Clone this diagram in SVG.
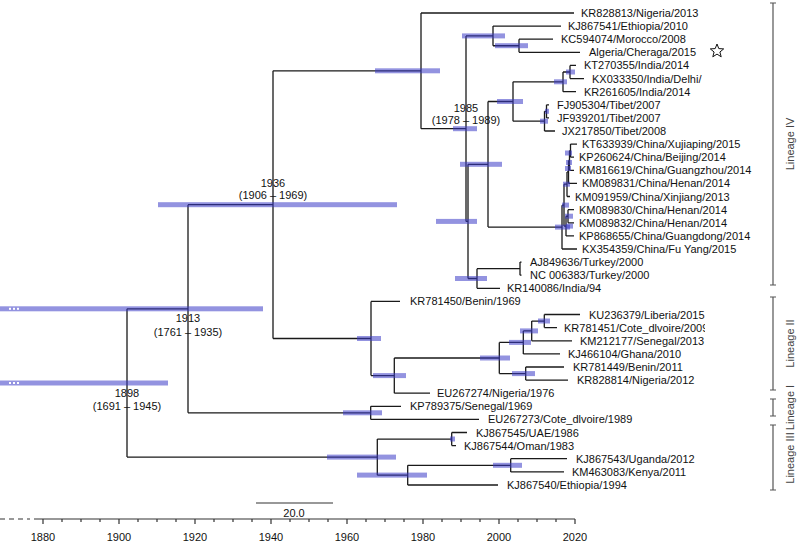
<svg xmlns="http://www.w3.org/2000/svg" width="798" height="545" viewBox="0 0 798 545">
<style>
text{font-family:"Liberation Sans",Arial,sans-serif;font-size:11px;fill:#111}
.tree{fill:none;stroke:#1a1a1a;stroke-width:1.3}
.hpd{fill:#3a3ac6;fill-opacity:0.55}
.nl{text-anchor:middle}
.lin{fill:none;stroke:#555;stroke-width:1.2}
.lt{fill:#444;text-anchor:middle}
.ax{fill:none;stroke:#333;stroke-width:1.2}
</style>
<defs>
<clipPath id="cut"><rect x="0" y="0" width="705" height="545"/></clipPath>
</defs>
<rect width="798" height="545" fill="#fff"/>
<g id="connectors" class="tree">
<path d="M127,308.8V457.1M127,308.8H188M127,457.1H377.3"/>
<path d="M188,204.7V412.85M188,204.7H273M188,412.85H370.7"/>
<path d="M273,70.8V338.5M273,70.8H421M273,338.5H371"/>
<path d="M421,13V128.65M421,13H574M421,128.65H466"/>
<path d="M466,35.9V221.4M466,35.9H493M466,221.4H468"/>
<path d="M468,164.3V278.5M468,164.3H488M468,278.5H477"/>
<path d="M493,26.1V45.75M493,26.1H561M493,45.75H519"/>
<path d="M519,39.2V52.3M519,39.2H553M519,52.3H580"/>
<path d="M488,101.5V227.1M488,101.5H513M488,227.1H562"/>
<path d="M513,81.85V121.2M513,81.85H563M513,121.2H544.5"/>
<path d="M563,72V91.7M563,72H570M563,91.7H576"/>
<path d="M570,65.4V78.6M570,65.4H576M570,78.6H584"/>
<path d="M544.5,111.35V131M544.5,111.35H546.5M544.5,131H555"/>
<path d="M546.5,104.8V117.9M546.5,104.8H549M546.5,117.9H549"/>
<path d="M562,205.15V249M562,205.15H564M562,249H577"/>
<path d="M564,184.2V226.1M564,184.2H567M564,226.1H566"/>
<path d="M567,171.9V196.5M567,171.9H568.5M567,196.5H570"/>
<path d="M568.5,160.5V183.4M568.5,160.5H569.5M568.5,183.4H577"/>
<path d="M569.5,150.65V170.3M569.5,150.65H570.5M569.5,170.3H574"/>
<path d="M570.5,144.1V157.2M570.5,144.1H577M570.5,157.2H574"/>
<path d="M566,216.25V235.9M566,216.25H568M566,235.9H574"/>
<path d="M568,209.7V222.8M568,209.7H574M568,222.8H574"/>
<path d="M477,268.65V288.3M477,268.65H520M477,288.3H500"/>
<path d="M520,262.1V275.2M520,262.1H521.5M520,275.2H521.5"/>
<path d="M371,301.4V375.6M371,301.4H400M371,375.6H394.3"/>
<path d="M394.3,358V393.2M394.3,358H499.3M394.3,393.2H430"/>
<path d="M499.3,342.4V373.6M499.3,342.4H523.3M499.3,373.6H525.7"/>
<path d="M523.3,330.9V353.9M523.3,330.9H531.7M523.3,353.9H560"/>
<path d="M531.7,321.05V340.8M531.7,321.05H544.3M531.7,340.8H572"/>
<path d="M544.3,314.5V327.6M544.3,314.5H580M544.3,327.6H557"/>
<path d="M525.7,367V380.1M525.7,367H564M525.7,380.1H568"/>
<path d="M370.7,406.3V419.4M370.7,406.3H401M370.7,419.4H479"/>
<path d="M377.3,439.05V475.15M377.3,439.05H451.7M377.3,475.15H407.7"/>
<path d="M451.7,432.5V445.6M451.7,432.5H467M451.7,445.6H456"/>
<path d="M407.7,465.3V485M407.7,465.3H510.7M407.7,485H498"/>
<path d="M510.7,458.7V471.9M510.7,458.7H567M510.7,471.9H564"/>
</g>
<g id="hpd-bars">
<g id="node-root"><rect class="hpd" x="19" y="380.5" width="149" height="5"/><rect class="hpd" x="0" y="380.5" width="19" height="5" fill-opacity="0.25"/><rect x="9" y="382" width="2" height="2" fill="#fff"/><rect x="13" y="382" width="2" height="2" fill="#fff"/><rect x="17" y="382" width="2" height="2" fill="#fff"/><text class="nl" x="127" y="397">1898</text><text class="nl" x="127" y="410">(1691 – 1945)</text></g>
<g id="node-1913"><rect class="hpd" x="19" y="306.3" width="244" height="5"/><rect class="hpd" x="0" y="306.3" width="19" height="5" fill-opacity="0.25"/><rect x="9" y="307.8" width="2" height="2" fill="#fff"/><rect x="13" y="307.8" width="2" height="2" fill="#fff"/><rect x="17" y="307.8" width="2" height="2" fill="#fff"/><text class="nl" x="188" y="322">1913</text><text class="nl" x="188" y="335.5">(1761 – 1935)</text></g>
<g id="node-1936"><rect class="hpd" x="158" y="202.2" width="239" height="5"/><text class="nl" x="273" y="186.5">1936</text><text class="nl" x="273" y="198.5">(1906 – 1969)</text></g>
<g id="node-crownIV"><rect class="hpd" x="375" y="68.3" width="65" height="5"/></g>
<g id="node-1985"><rect class="hpd" x="453" y="126.2" width="24" height="5"/><text class="nl" x="466" y="111.5">1985</text><text class="nl" x="466" y="124">(1978 – 1989)</text></g>
<g id="node-c1"><rect class="hpd" x="462" y="33.4" width="43" height="5"/></g>
<g id="node-c2"><rect class="hpd" x="495" y="43.2" width="33" height="5"/></g>
<g id="node-itc"><rect class="hpd" x="460" y="161.8" width="42" height="5"/></g>
<g id="node-it"><rect class="hpd" x="497" y="99" width="26" height="5"/></g>
<g id="node-india"><rect class="hpd" x="554" y="79.3" width="13" height="5"/></g>
<g id="node-ktkx"><rect class="hpd" x="566" y="69.5" width="9" height="5"/></g>
<g id="node-tibet"><rect class="hpd" x="540" y="118.7" width="8" height="5"/></g>
<g id="node-fjjf"><rect class="hpd" x="545" y="108.8" width="4" height="5"/></g>
<g id="node-b"><rect class="hpd" x="436" y="218.9" width="41" height="5"/></g>
<g id="node-tk"><rect class="hpd" x="455" y="276" width="32" height="5"/></g>
<g id="node-china"><rect class="hpd" x="555" y="224.6" width="15" height="5"/></g>
<g id="node-n205"><rect class="hpd" x="562" y="202.6" width="7" height="5"/></g>
<g id="node-u4"><rect class="hpd" x="563" y="181.7" width="7" height="5"/></g>
<g id="node-u3"><rect class="hpd" x="565" y="166" width="6" height="5"/></g>
<g id="node-u2"><rect class="hpd" x="566" y="160" width="6" height="5"/></g>
<g id="node-u1"><rect class="hpd" x="565" y="150.5" width="7" height="5"/></g>
<g id="node-l2"><rect class="hpd" x="566" y="223.6" width="7" height="5"/></g>
<g id="node-l1"><rect class="hpd" x="565" y="213.7" width="8" height="5"/></g>
<g id="node-crownII"><rect class="hpd" x="357" y="336" width="24" height="5"/></g>
<g id="node-d"><rect class="hpd" x="373" y="373.1" width="33" height="5"/></g>
<g id="node-e"><rect class="hpd" x="480" y="355.5" width="30" height="5"/></g>
<g id="node-f"><rect class="hpd" x="509" y="339.9" width="22" height="5"/></g>
<g id="node-h"><rect class="hpd" x="520" y="328.4" width="18" height="5"/></g>
<g id="node-i"><rect class="hpd" x="538" y="318.5" width="12" height="5"/></g>
<g id="node-g"><rect class="hpd" x="512" y="371.1" width="23" height="5"/></g>
<g id="node-crownI"><rect class="hpd" x="343" y="410.3" width="39" height="5"/></g>
<g id="node-crownIII"><rect class="hpd" x="327" y="454.6" width="69" height="5"/></g>
<g id="node-j"><rect class="hpd" x="357" y="472.6" width="70" height="5"/></g>
<g id="node-k"><rect class="hpd" x="493" y="462.8" width="29" height="5"/></g>
<g id="node-uo"><rect class="hpd" x="450" y="436.5" width="5" height="5"/></g>
</g>
<g id="tips">
<g id="tip-1"><text x="581" y="17">KR828813/Nigeria/2013</text></g>
<g id="tip-2"><text x="568" y="30.1">KJ867541/Ethiopia/2010</text></g>
<g id="tip-3"><text x="561" y="43.2">KC594074/Morocco/2008</text></g>
<g id="tip-4"><text x="589" y="56.3">Algeria/Cheraga/2015</text><polygon points="717,44 718.8,48.6 723.7,48.9 719.9,52 721.2,56.8 717,54.1 712.8,56.8 714.1,52 710.3,48.9 715.2,48.6" fill="none" stroke="#111" stroke-width="1"/></g>
<g id="tip-5"><text x="584" y="69.4">KT270355/India/2014</text></g>
<g id="tip-6"><text x="592" y="82.6">KX033350/India/Delhi/</text></g>
<g id="tip-7"><text x="584" y="95.7">KR261605/India/2014</text></g>
<g id="tip-8"><text x="557" y="108.8">FJ905304/Tibet/2007</text></g>
<g id="tip-9"><text x="557" y="121.9">JF939201/Tibet/2007</text></g>
<g id="tip-10"><text x="562" y="135">JX217850/Tibet/2008</text></g>
<g id="tip-11"><text x="582" y="148.1">KT633939/China/Xujiaping/2015</text></g>
<g id="tip-12"><text x="579" y="161.2">KP260624/China/Beijing/2014</text></g>
<g id="tip-13"><text x="579" y="174.3">KM816619/China/Guangzhou/2014</text></g>
<g id="tip-14"><text x="582" y="187.4">KM089831/China/Henan/2014</text></g>
<g id="tip-15"><text x="575" y="200.5">KM091959/China/Xinjiang/2013</text></g>
<g id="tip-16"><text x="579" y="213.7">KM089830/China/Henan/2014</text></g>
<g id="tip-17"><text x="579" y="226.8">KM089832/China/Henan/2014</text></g>
<g id="tip-18"><text x="579" y="239.9">KP868655/China/Guangdong/2014</text></g>
<g id="tip-19"><text x="582" y="253">KX354359/China/Fu Yang/2015</text></g>
<g id="tip-20"><text x="530" y="266.1">AJ849636/Turkey/2000</text></g>
<g id="tip-21"><text x="530" y="279.2">NC 006383/Turkey/2000</text></g>
<g id="tip-22"><text x="507" y="292.3">KR140086/India/94</text></g>
<g id="tip-23"><text x="410" y="305.4">KR781450/Benin/1969</text></g>
<g id="tip-24"><text x="589" y="318.5">KU236379/Liberia/2015</text></g>
<g id="tip-25"><text x="564" y="331.6" clip-path="url(#cut)">KR781451/Cote_dlvoire/2009</text></g>
<g id="tip-26"><text x="580" y="344.8">KM212177/Senegal/2013</text></g>
<g id="tip-27"><text x="568" y="357.9">KJ466104/Ghana/2010</text></g>
<g id="tip-28"><text x="573" y="371">KR781449/Benin/2011</text></g>
<g id="tip-29"><text x="577" y="384.1">KR828814/Nigeria/2012</text></g>
<g id="tip-30"><text x="437" y="397.2">EU267274/Nigeria/1976</text></g>
<g id="tip-31"><text x="410" y="410.3">KP789375/Senegal/1969</text></g>
<g id="tip-32"><text x="488" y="423.4">EU267273/Cote_dlvoire/1989</text></g>
<g id="tip-33"><text x="476" y="436.5">KJ867545/UAE/1986</text></g>
<g id="tip-34"><text x="464" y="449.6">KJ867544/Oman/1983</text></g>
<g id="tip-35"><text x="576" y="462.7">KJ867543/Uganda/2012</text></g>
<g id="tip-36"><text x="572" y="475.9">KM463083/Kenya/2011</text></g>
<g id="tip-37"><text x="507" y="489">KJ867540/Ethiopia/1994</text></g>
</g>
<g id="lineages">
<g id="lineage-IV"><path class="lin" d="M773,3V285M770,3H776M770,285H776"/><text class="lt" transform="translate(794,144) rotate(-90)">Lineage IV</text></g>
<g id="lineage-II"><path class="lin" d="M773,297V390M770,297H776M770,390H776"/><text class="lt" transform="translate(794,343.5) rotate(-90)">Lineage II</text></g>
<g id="lineage-I"><path class="lin" d="M773,399V416M770,399H776M770,416H776"/><text class="lt" transform="translate(794,407.5) rotate(-90)">Lineage I</text></g>
<g id="lineage-III"><path class="lin" d="M773,425V490M770,425H776M770,490H776"/><text class="lt" transform="translate(794,458) rotate(-90)">Lineage III</text></g>
</g>
<g id="scale-bar"><path class="ax" d="M256,503H333"/><text class="nl" x="294" y="517">20.0</text></g>
<g id="axis">
<path class="ax" d="M0,519H30" stroke-dasharray="5,4"/>
<path class="ax" d="M34,519H575"/>
<path class="ax" d="M43,519v5M119,519v5M195,519v5M271,519v5M347,519v5M423,519v5M499,519v5M575,519v5"/>
<path class="ax" stroke-width="1" d="M62,519v3M81,519v3M100,519v3M138,519v3M157,519v3M176,519v3M214,519v3M233,519v3M252,519v3M290,519v3M309,519v3M328,519v3M366,519v3M385,519v3M404,519v3M442,519v3M461,519v3M480,519v3M518,519v3M537,519v3M556,519v3"/>
<text class="nl" x="43" y="541">1880</text><text class="nl" x="119" y="541">1900</text><text class="nl" x="195" y="541">1920</text><text class="nl" x="271" y="541">1940</text><text class="nl" x="347" y="541">1960</text><text class="nl" x="423" y="541">1980</text><text class="nl" x="499" y="541">2000</text><text class="nl" x="575" y="541">2020</text>
</g>
</svg>
